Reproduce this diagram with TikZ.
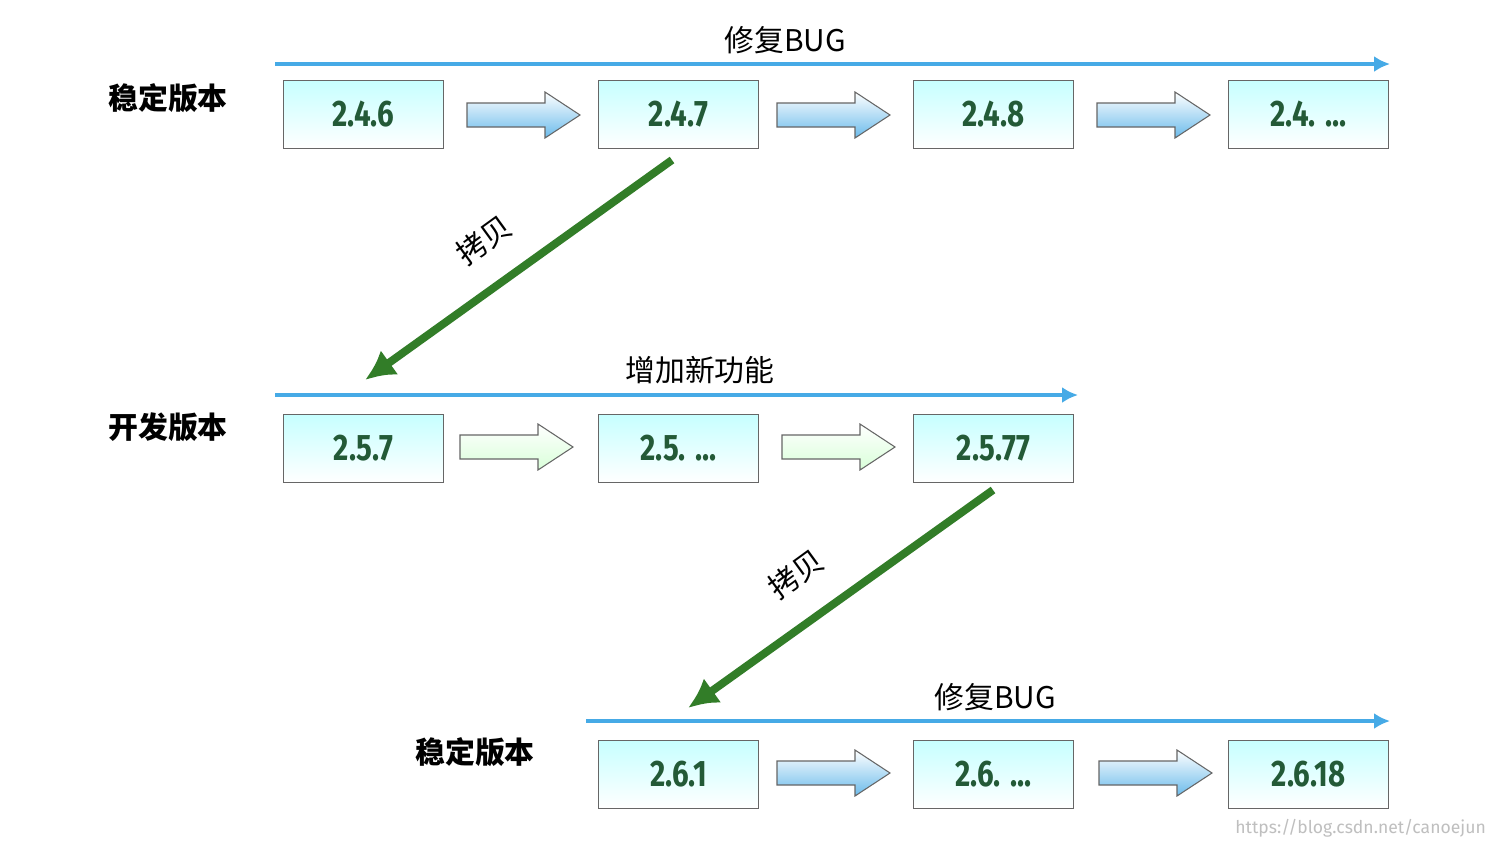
\documentclass[tikz,border=0pt]{standalone}
\usepackage{fontspec}
\usetikzlibrary{arrows.meta}
\setmainfont{Fira Sans}
\newfontfamily\cjk{Noto Sans CJK SC}
\begin{document}
\begin{tikzpicture}[x=0.02cm,y=-0.02cm]
\definecolor{bl}{RGB}{70,170,230}
\definecolor{gr}{RGB}{50,125,40}
\definecolor{num}{RGB}{35,90,55}
\tikzset{
 ver/.style={draw=gray!80!black,line width=0.6pt,top color=cyan!22,bottom color=white,minimum width=3.2cm,minimum height=1.36cm,inner sep=0pt,anchor=north west,font=\bfseries\fontsize{21}{21}\selectfont\color{num}},
 tl/.style={draw=bl,line width=2.4pt,-{Latex[length=9pt,width=9pt]}},
 cp/.style={draw=gr,line width=4.5pt,-{Latex[length=17pt,width=17pt]}},
 rowlab/.style={font=\cjk\bfseries\fontsize{17}{17}\selectfont},
 toplab/.style={font=\cjk\fontsize{17}{17}\selectfont},
}
\useasboundingbox[fill=white] (0,0) rectangle (1500,846);
\def\barrow#1#2#3{\path[draw=gray!80!black,line width=0.6pt,top color=white,bottom color=#3] (#1,#2-12)--(#1+78,#2-12)--(#1+78,#2-23)--(#1+113,#2)--(#1+78,#2+23)--(#1+78,#2+12)--(#1,#2+12)--cycle;}
% row 1
\node[ver] (a1) at (283,80) {\addfontfeature{FakeStretch=0.8}2.4.6};
\node[ver] (a2) at (598,80) {\addfontfeature{FakeStretch=0.8}2.4.7};
\node[ver] (a3) at (913,80) {\addfontfeature{FakeStretch=0.8}2.4.8};
\node[ver] (a4) at (1228,80) {\addfontfeature{FakeStretch=0.8}2.4. ...};
\barrow{467}{115}{bl!80}\barrow{777}{115}{bl!80}\barrow{1097}{115}{bl!80}
\coordinate (l1s) at (275,64); \coordinate (l1e) at (1390,64);
\draw[tl] (l1s)--(l1e);
\node[toplab] (t1) at (785,40) {修复BUG};
\node[rowlab] (r1) at (168,98) {稳定版本};
% row 2
\node[ver] (b1) at (283,414) {\addfontfeature{FakeStretch=0.8}2.5.7};
\node[ver] (b2) at (598,414) {\addfontfeature{FakeStretch=0.8}2.5. ...};
\node[ver] (b3) at (913,414) {\addfontfeature{FakeStretch=0.8}2.5.77};
\barrow{460}{447}{green!15}\barrow{782}{447}{green!15}
\coordinate (l2s) at (275,395); \coordinate (l2e) at (1078,395);
\draw[tl] (l2s)--(l2e);
\node[toplab] (t2) at (700,370) {增加新功能};
\node[rowlab] (r2) at (168,427) {开发版本};
% row 3
\node[ver] (c1) at (598,740) {\addfontfeature{FakeStretch=0.8}2.6.1};
\node[ver] (c2) at (913,740) {\addfontfeature{FakeStretch=0.8}2.6. ...};
\node[ver] (c3) at (1228,740) {\addfontfeature{FakeStretch=0.8}2.6.18};
\barrow{777}{773}{bl!80}\barrow{1099}{773}{bl!80}
\coordinate (l3s) at (586,721); \coordinate (l3e) at (1390,721);
\draw[tl] (l3s)--(l3e);
\node[toplab] (t3) at (995,697) {修复BUG};
\node[rowlab] (r3) at (475,752) {稳定版本};
% copies
\coordinate (g1s) at (672,160); \coordinate (g1e) at (365,380);
\coordinate (g2s) at (993,490); \coordinate (g2e) at (688,708);
\draw[cp] (g1s)--(g1e);
\draw[cp] (g2s)--(g2e);
\node[toplab,rotate=36] (k1) at (484,240) {拷贝};
\node[toplab,rotate=36] (k2) at (796,574) {拷贝};
\node[anchor=east,font=\fontsize{10}{10}\selectfont,text=gray!50] (w) at (1492,828) {https://blog.csdn.net/canoejun};
\end{tikzpicture}
\end{document}
